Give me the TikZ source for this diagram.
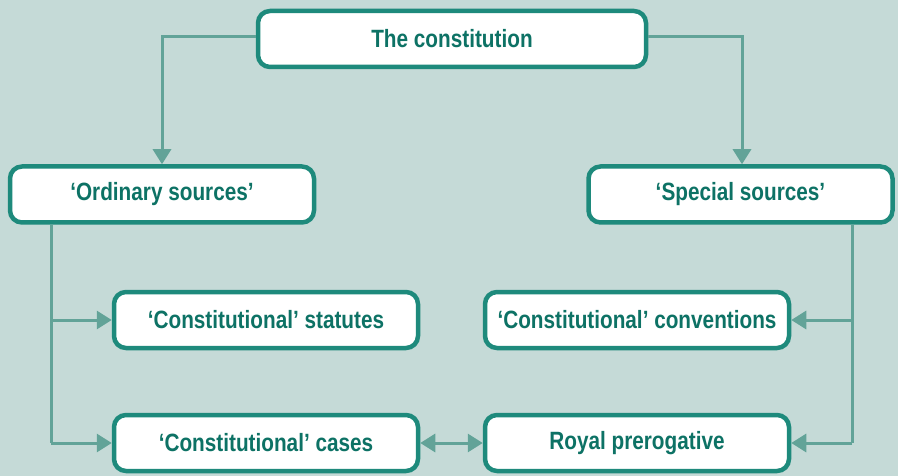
\documentclass[tikz,border=0pt]{standalone}
\usepackage{fontspec}
\setmainfont{Liberation Sans}[FakeStretch=0.83]
\usetikzlibrary{arrows.meta}
\definecolor{bg}{HTML}{C5DAD7}
\definecolor{boxline}{HTML}{1E8A7C}
\definecolor{txt}{HTML}{0D7265}
\definecolor{conn}{HTML}{62A398}
\tikzset{
  box/.style={draw=boxline, line width=4.5pt, fill=white, rounded corners=12pt,
    minimum width=#1, minimum height=56pt, inner sep=0pt,
    font=\fontsize{25}{28}\selectfont\bfseries, text=txt},
  box/.default=304pt,
  link/.style={draw=conn, line width=3pt, -{Triangle[length=15pt,width=18pt]}},
  dlink/.style={draw=conn, line width=3pt, {Triangle[length=15pt,width=18pt]}-{Triangle[length=15pt,width=18pt]}}
}
\begin{document}
\begin{tikzpicture}[x=1pt,y=-1pt]
\fill[bg] (0,0) rectangle (898,476);
\useasboundingbox (0,0) rectangle (898,476);
\node[box=388pt] (top) at (452,39) {The constitution};
\node[box] (ord) at (162,194.5) {‘Ordinary sources’};
\node[box] (spec) at (740.5,194.5) {‘Special sources’};
\node[box] (stat) at (266,320) {‘Constitutional’ statutes};
\node[box] (cases) at (266,443) {‘Constitutional’ cases};
\node[box] (conv) at (637,320) {‘Constitutional’ conventions};
\node[box] (royal) at (637,443) {Royal prerogative};
\coordinate (lt) at (51,320);
\coordinate (rt) at (852,320);
\draw[link] (top.west |- 0,37) -| (ord.north);
\draw[link] (top.east |- 0,37) -| (spec.north -| 742,0);
\draw[draw=conn, line width=3pt] (ord.south -| lt) -- (lt |- cases);
\draw[link] (lt) -- (stat.west);
\draw[link] (lt |- cases) -- (cases.west);
\draw[draw=conn, line width=3pt] (spec.south -| rt) -- (rt |- royal);
\draw[link] (rt) -- (conv.east);
\draw[link] (rt |- royal) -- (royal.east);
\draw[dlink] (cases.east) -- (royal.west);
\end{tikzpicture}
\end{document}
